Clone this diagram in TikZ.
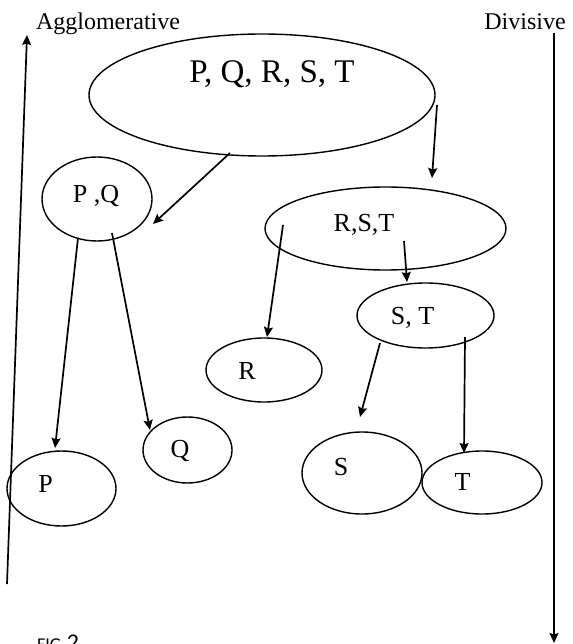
\documentclass[tikz,border=0pt]{standalone}
\usepackage{fontspec}
\setmainfont{Liberation Serif}
\newfontfamily\figfont{Carlito}
\usetikzlibrary{shapes.geometric,arrows.meta,calc}
\begin{document}
\begin{tikzpicture}[x=1pt,y=-1pt,
  oval/.style={draw,ellipse,line width=1.4pt,inner sep=0pt},
  arr/.style={line width=1.7pt,-{Stealth[length=10pt,width=9pt,inset=1.5pt]}},
  big/.style={font=\fontsize{33}{33}\selectfont,inner sep=0pt,anchor=base},
  lbl/.style={font=\fontsize{26}{26}\selectfont,inner sep=0pt,anchor=base},
  side/.style={font=\fontsize{24}{24}\selectfont,inner sep=0pt,anchor=base}]
\useasboundingbox (0,0) rectangle (572,644);

% ellipses
\node[oval,minimum width=346pt,minimum height=122pt] (pqrst) at (262,95) {};
\node[oval,minimum width=110pt,minimum height=84pt] (pq) at (97,199) {};
\node[oval,minimum width=241pt,minimum height=83pt] (rst) at (385.5,228.5) {};
\node[oval,minimum width=137pt,minimum height=65pt] (st) at (425.5,315.5) {};
\node[oval,minimum width=116pt,minimum height=64pt] (r) at (264,370) {};
\node[oval,minimum width=109pt,minimum height=75pt] (p) at (61.5,488.5) {};
\node[oval,minimum width=89pt,minimum height=66pt] (q) at (187.5,450) {};
\node[oval,minimum width=120pt,minimum height=82pt] (s) at (362,473) {};
\node[oval,minimum width=120pt,minimum height=63pt] (t) at (482,482.5) {};

% labels
\node[big] (pqrstL) at (272,83) {P, Q, R, S, T};
\node[lbl] (pqL) at (96,203) {P ,Q};
\node[lbl] (rstL) at (364,231) {R,S,T};
\node[lbl] (stL) at (412.5,324) {S, T};
\node[lbl] (rL) at (247,379) {R};
\node[lbl] (pL) at (45.5,492) {P};
\node[lbl] (qL) at (180,457) {Q};
\node[lbl] (sL) at (341,475) {S};
\node[lbl] (tL) at (462.5,490) {T};
\node[side] (agg) at (108,30) {Agglomerative};
\node[side] (div) at (525,30) {Divisive};
\node[anchor=base west,inner sep=0pt] (fig) at (37,650)
  {\figfont\fontsize{18}{18}\selectfont FIG-\fontsize{24}{24}\selectfont 2};

% connectors
\draw[arr] ($(pqrst.center)+(-32,58)$) -- ($(pq.center)+(56,25)$);
\draw[arr] ($(pqrst.center)+(175,10)$) -- ($(rst.center)+(46.5,-50.5)$);
\draw[arr] ($(pq.center)+(-19,39)$) -- ($(p.center)+(-6.5,-40.5)$);
\draw[arr] ($(pq.center)+(15,34)$) -- ($(q.center)+(-37.5,-20)$);
\draw[arr] ($(rst.center)+(-102.5,-3.5)$) -- ($(r.center)+(3,-33)$);
\draw[arr] ($(rst.center)+(18.5,12.5)$) -- ($(st.center)+(-18.5,-33.5)$);
\draw[arr] ($(st.center)+(-45.5,27.5)$) -- ($(s.center)+(-2,-56)$);
\draw[arr] ($(st.center)+(39.5,21.5)$) -- ($(t.center)+(-18,-29.5)$);

% side arrows
\coordinate (aggBot) at (7,584);
\coordinate (aggTop) at (27,35);
\coordinate (divTop) at (554,33);
\coordinate (divBot) at (554,643);
\draw[arr] (aggBot) -- (aggTop);
\draw[arr] (divTop) -- (divBot);
\end{tikzpicture}
\end{document}
